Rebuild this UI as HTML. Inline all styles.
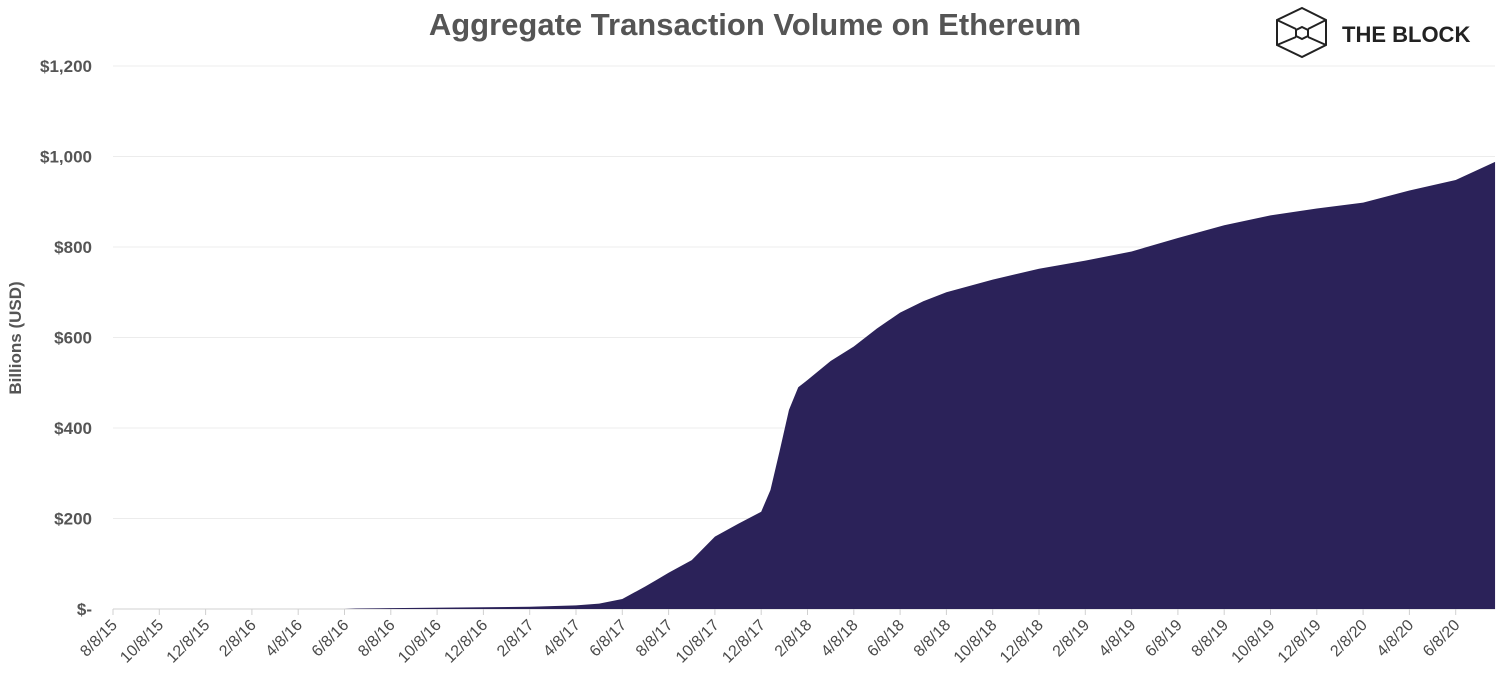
<!DOCTYPE html>
<html><head><meta charset="utf-8"><style>
body{margin:0;background:#fff;width:1512px;height:684px;overflow:hidden}
svg{display:block;font-family:"Liberation Sans",sans-serif}
</style></head><body>
<svg id="c" width="1512" height="684">
<text x="755" y="35" text-anchor="middle" font-size="31" font-weight="bold" fill="#555">Aggregate Transaction Volume on Ethereum</text>
<g stroke="#222" stroke-width="2" fill="none">
<polygon points="1302,8 1326,20 1326,45 1302,57 1277,45 1277,20"/>
<line x1="1277" y1="20" x2="1296" y2="29"/><line x1="1326" y1="20" x2="1308" y2="29"/>
<line x1="1277" y1="45" x2="1296" y2="37"/><line x1="1326" y1="45" x2="1308" y2="37"/>
<polygon points="1302,27 1308,30 1308,36 1302,39 1296,36 1296,30"/>
</g>
<text x="1342" y="42" font-size="22" font-weight="bold" fill="#222">THE BLOCK</text>
<text transform="translate(21,338) rotate(-90)" text-anchor="middle" font-size="17" font-weight="bold" fill="#555">Billions (USD)</text>
<g id="grid"></g><g id="area"></g><g id="xt"></g>
</svg>
<script>
const yTicks=[0,200,400,600,800,1000,1200];
const yTickLabels=["$-","$200","$400","$600","$800","$1,000","$1,200"];
const xTickLabels=["8/8/15","10/8/15","12/8/15","2/8/16","4/8/16","6/8/16","8/8/16","10/8/16","12/8/16","2/8/17","4/8/17","6/8/17","8/8/17","10/8/17","12/8/17","2/8/18","4/8/18","6/8/18","8/8/18","10/8/18","12/8/18","2/8/19","4/8/19","6/8/19","8/8/19","10/8/19","12/8/19","2/8/20","4/8/20","6/8/20"];
// months since 8/8/15
const months=[0,10,10.5,12,16,18,20,21,22,23,23.5,24,25,26,27,28,28.4,28.8,29.2,29.6,30,31,32,33,34,35,36,38,40,42,44,46,48,50,52,54,56,58,59.7];
const values=[0,0,1,2,4,5,8,12,22,50,65,80,108,160,188,215,263,350,440,490,506,548,580,620,655,680,700,728,752,770,790,820,848,870,885,898,925,948,988];
const NS="http://www.w3.org/2000/svg";
const x=m=>113+m*23.15, y=v=>609-v*0.4525;
function mk(t,a,p){const e=document.createElementNS(NS,t);for(const k in a)e.setAttribute(k,a[k]);p.appendChild(e);return e;}
const g=document.getElementById('grid');
yTicks.forEach((v,i)=>{
 const l=mk('line',{x1:113,x2:1495,y1:y(v),y2:y(v),stroke:v===0?'#d0d0d0':'#ececec','stroke-width':1},g);
 
 
 const t=mk('text',{x:92,y:y(v)+6,'text-anchor':'end','font-size':17,'font-weight':'bold',fill:'#555'},g);
 t.textContent=yTickLabels[i];
 
 
});
let d='M'+x(months[0])+','+y(0);
months.forEach((m,i)=>{d+=' L'+x(m)+','+y(values[i]);});
d+=' L'+x(months[months.length-1])+','+y(0)+' Z';
const p=mk('path',{d:d,fill:'#2b2259'},document.getElementById('area'));


const xt=document.getElementById('xt');
xTickLabels.forEach((s,i)=>{
 const xx=x(i*2);
 const tk=mk('line',{x1:xx,x2:xx,y1:609,y2:615,stroke:'#d0d0d0'},xt);
 
 
 const t=mk('text',{transform:`translate(${xx+5},${626}) rotate(-45)`,'text-anchor':'end','font-size':16,fill:'#4a4a4a'},xt);
 t.textContent=s;
 
 
});
</script>
</body></html>
